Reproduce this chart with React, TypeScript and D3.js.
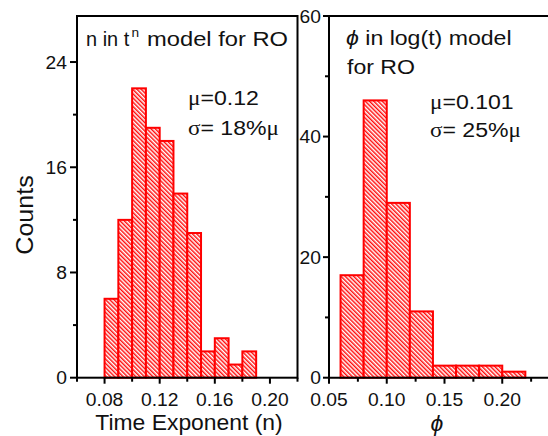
import React from "react";
import * as d3 from "d3";

// Histogram of the time exponent n (t^n model)
const nBinStarts = [0.08, 0.09, 0.1, 0.11, 0.12, 0.13, 0.14, 0.15, 0.16, 0.17, 0.18];
const nBinWidth = 0.01;
const nCounts = [6, 12, 22, 19, 18, 14, 11, 2, 3, 1, 2];
const nMajorTicks = [0.08, 0.12, 0.16, 0.2];
const nMinorTicks = [0.06, 0.1, 0.14, 0.18, 0.22];
const nCountMajor = [0, 8, 16, 24];
const nCountMinor = [4, 12, 20];

// Histogram of phi (log(t) model)
const phiBinStarts = [0.06, 0.08, 0.1, 0.12, 0.14, 0.16, 0.18, 0.2];
const phiBinWidth = 0.02;
const phiCounts = [17, 46, 29, 11, 2, 2, 2, 1];
const phiMajorTicks = [0.05, 0.1, 0.15, 0.2];
const phiMinorTicks = [0.075, 0.125, 0.175, 0.225];
const phiCountMajor = [0, 20, 40, 60];
const phiCountMinor = [10, 30, 50];

const W = 548;
const H = 436;
const SANS = "'Liberation Sans', Arial, sans-serif";
const SERIF = "'Liberation Serif', 'Times New Roman', serif";
const RED = "#ff0000";

const top = 16;
const bottom = 377.7;

const xN = d3.scaleLinear().domain([0.06, 0.22]).range([77, 297.5]);
const yN = d3.scaleLinear().domain([0, 27.5]).range([bottom, top]);
const xPhi = d3.scaleLinear().domain([0.05, 0.25]).range([329, 560]);
const yPhi = d3.scaleLinear().domain([0, 60]).range([bottom, top]);

const fmt2 = d3.format(".2f");

type LabelProps = {
  x: number;
  y: number;
  size: number;
  sx?: number;
  anchor?: "start" | "middle" | "end";
  rotate?: number;
  italic?: boolean;
  family?: string;
  children: React.ReactNode;
};

function Label({ x, y, size, sx = 1, anchor = "start", rotate = 0, italic, family = SANS, children }: LabelProps) {
  return (
    <text
      transform={`translate(${x},${y}) rotate(${rotate}) scale(${sx},1)`}
      fontSize={size}
      fontFamily={family}
      fontStyle={italic ? "italic" : "normal"}
      textAnchor={anchor}
      fill="#111"
    >
      {children}
    </text>
  );
}

function Bars({ starts, width, counts, x, y }: { starts: number[]; width: number; counts: number[]; x: d3.ScaleLinear<number, number>; y: d3.ScaleLinear<number, number> }) {
  return (
    <g>
      {starts.map((s, i) => (
        <rect
          key={i}
          x={x(s)}
          y={y(counts[i])}
          width={x(s + width) - x(s)}
          height={y(0) - y(counts[i])}
          fill="url(#hatch)"
          stroke={RED}
          strokeWidth={2}
        />
      ))}
    </g>
  );
}

export default function App() {
  const tickSize = 18;
  const tickSx = 1.07;
  const noteSize = 21;
  const noteSx = 1.1;
  return (
    <svg
      width={W}
      height={H}
      style={{ position: "absolute", left: 0, top: 0, background: "#fff" }}
    >
      <defs>
        <pattern id="hatch" patternUnits="userSpaceOnUse" width={3} height={3} patternTransform="rotate(-45)">
          <rect width={3} height={3} fill="#fff" />
          <line x1={0.75} y1={0} x2={0.75} y2={3} stroke={RED} strokeWidth={1.4} />
        </pattern>
      </defs>

      {/* ---------- left panel: n in t^n ---------- */}
      <Bars starts={nBinStarts} width={nBinWidth} counts={nCounts} x={xN} y={yN} />
      <rect x={xN(0.06)} y={top} width={xN(0.22) - xN(0.06)} height={bottom - top} fill="none" stroke="#000" strokeWidth={2} />
      {nCountMajor.map((v) => (
        <g key={"ny" + v}>
          <line x1={xN(0.06) - 7} x2={xN(0.06)} y1={yN(v)} y2={yN(v)} stroke="#000" strokeWidth={2} />
          <Label x={xN(0.06) - 10} y={yN(v) + 6.5} size={tickSize} sx={tickSx} anchor="end">{v}</Label>
        </g>
      ))}
      {nCountMinor.map((v) => (
        <line key={"nym" + v} x1={xN(0.06) - 4} x2={xN(0.06)} y1={yN(v)} y2={yN(v)} stroke="#000" strokeWidth={2} />
      ))}
      {nMajorTicks.map((v) => (
        <g key={"nx" + v}>
          <line x1={xN(v)} x2={xN(v)} y1={bottom} y2={bottom + 6} stroke="#000" strokeWidth={2} />
          <Label x={xN(v)} y={bottom + 28} size={tickSize} sx={tickSx} anchor="middle">{fmt2(v)}</Label>
        </g>
      ))}
      {nMinorTicks.map((v) => (
        <line key={"nxm" + v} x1={xN(v)} x2={xN(v)} y1={bottom} y2={bottom + 4} stroke="#000" strokeWidth={2} />
      ))}

      <Label x={86} y={46} size={21} sx={0.95}>n in t</Label>
      <Label x={131.5} y={37} size={13} sx={1.05}>n</Label>
      <Label x={147} y={46} size={21} sx={1.13}>model for RO</Label>

      <Label x={188} y={104.5} size={noteSize} sx={noteSx}>
        <tspan fontFamily={SERIF}>μ</tspan>=0.12
      </Label>
      <Label x={188} y={135} size={noteSize} sx={noteSx}>
        <tspan fontFamily={SERIF}>σ</tspan>= 18%<tspan fontFamily={SERIF}>μ</tspan>
      </Label>

      <Label x={189} y={430} size={22} sx={1.04} anchor="middle">Time Exponent (n)</Label>
      <Label x={33} y={215} size={23} sx={1.09} anchor="middle" rotate={-90}>Counts</Label>

      {/* ---------- right panel: phi in log(t) ---------- */}
      <Bars starts={phiBinStarts} width={phiBinWidth} counts={phiCounts} x={xPhi} y={yPhi} />
      <line x1={xPhi(0.05)} x2={W} y1={top} y2={top} stroke="#000" strokeWidth={2} />
      <line x1={xPhi(0.05)} x2={W} y1={bottom} y2={bottom} stroke="#000" strokeWidth={2} />
      <line x1={xPhi(0.05)} x2={xPhi(0.05)} y1={top - 1} y2={bottom + 1} stroke="#000" strokeWidth={2} />
      {phiCountMajor.map((v) => (
        <g key={"py" + v}>
          <line x1={xPhi(0.05) - 6} x2={xPhi(0.05)} y1={yPhi(v)} y2={yPhi(v)} stroke="#000" strokeWidth={2} />
          <Label x={xPhi(0.05) - 8} y={yPhi(v) + 6.5} size={tickSize} sx={tickSx} anchor="end">{v}</Label>
        </g>
      ))}
      {phiCountMinor.map((v) => (
        <line key={"pym" + v} x1={xPhi(0.05) - 4} x2={xPhi(0.05)} y1={yPhi(v)} y2={yPhi(v)} stroke="#000" strokeWidth={2} />
      ))}
      {phiMajorTicks.map((v) => (
        <g key={"px" + v}>
          <line x1={xPhi(v)} x2={xPhi(v)} y1={bottom} y2={bottom + 6} stroke="#000" strokeWidth={2} />
          <Label x={xPhi(v)} y={bottom + 28} size={tickSize} sx={tickSx} anchor="middle">{fmt2(v)}</Label>
        </g>
      ))}
      {phiMinorTicks.map((v) => (
        <line key={"pxm" + v} x1={xPhi(v)} x2={xPhi(v)} y1={bottom} y2={bottom + 4} stroke="#000" strokeWidth={2} />
      ))}

      <Label x={346} y={45} size={noteSize} sx={noteSx}>
        <tspan fontStyle="italic">ϕ</tspan> in log(t) model
      </Label>
      <Label x={347} y={74} size={noteSize} sx={noteSx}>for RO</Label>

      <Label x={430} y={109} size={noteSize} sx={noteSx}>
        <tspan fontFamily={SERIF}>μ</tspan>=0.101
      </Label>
      <Label x={430} y={137} size={noteSize} sx={noteSx}>
        <tspan fontFamily={SERIF}>σ</tspan>= 25%<tspan fontFamily={SERIF}>μ</tspan>
      </Label>

      <Label x={437} y={431} size={23} anchor="middle" italic>ϕ</Label>
    </svg>
  );
}
